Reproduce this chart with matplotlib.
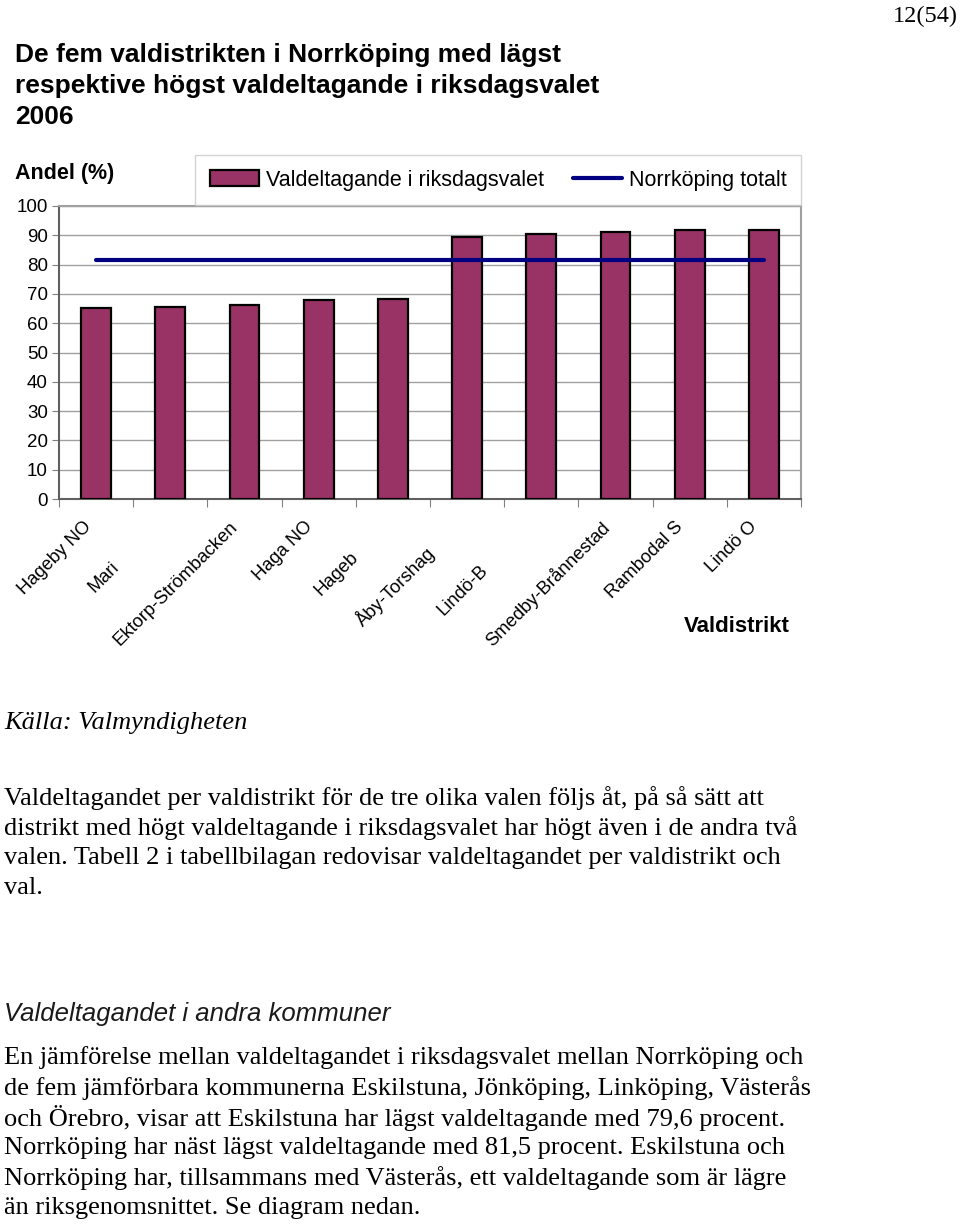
import matplotlib
matplotlib.use('Agg')
import matplotlib.pyplot as plt
import numpy as np

# data
districts = ['Hageby NO', 'Mari', 'Ektorp-Strömbacken', 'Haga NO', 'Hageb',
             'Åby-Torshag', 'Lindö-B', 'Smedby-Brånnestad', 'Rambodal S', 'Lindö O']
turnout = [65.2, 65.5, 66.2, 67.9, 68.4, 89.3, 90.6, 91.1, 91.8, 91.8]
norrkoping_total = 81.5
yticks = [0, 10, 20, 30, 40, 50, 60, 70, 80, 90, 100]

title = ['De fem valdistrikten i Norrköping med lägst',
         'respektive högst valdeltagande i riksdagsvalet',
         '2006']
para1 = ['Valdeltagandet per valdistrikt för de tre olika valen följs åt, på så sätt att',
         'distrikt med högt valdeltagande i riksdagsvalet har högt även i de andra två',
         'valen. Tabell 2 i tabellbilagan redovisar valdeltagandet per valdistrikt och',
         'val.']
para2 = ['En jämförelse mellan valdeltagandet i riksdagsvalet mellan Norrköping och',
         'de fem jämförbara kommunerna Eskilstuna, Jönköping, Linköping, Västerås',
         'och Örebro, visar att Eskilstuna har lägst valdeltagande med 79,6 procent.',
         'Norrköping har näst lägst valdeltagande med 81,5 procent. Eskilstuna och',
         'Norrköping har, tillsammans med Västerås, ett valdeltagande som är lägre',
         'än riksgenomsnittet. Se diagram nedan.']

# label anchor offsets in pixels (truncated labels sit lower on the diagonal)
label_dx = [-13, -60, -15, -15, -43, -42, -62, -15, -15, -15]
label_dy = [-19, -60, -19, -19, -50, -44, -63, -19, -19, -19]

W, H = 960, 1225
fig = plt.figure(figsize=(W / 100, H / 100), dpi=100)
sans = 'Liberation Sans'
serif = 'Liberation Serif'

def fy(py):
    return 1 - py / H

ax = fig.add_axes([59 / W, fy(499), (801 - 59) / W, (499 - 206) / H])
x = np.arange(len(districts))
bars = ax.bar(x, turnout, width=0.4, color='#993366', edgecolor='black',
              linewidth=1.6, zorder=3)
line, = ax.plot([x[0], x[-1]], [norrkoping_total, norrkoping_total],
                color='#000080', linewidth=3, zorder=4, solid_capstyle='round')

ax.set_xlim(-0.5, len(districts) - 0.5)
ax.set_ylim(0, 100)
ax.set_yticks(yticks)
ax.set_yticklabels([str(v) for v in yticks], fontfamily=sans, fontsize=13.5)
ax.yaxis.grid(True, color='#a0a0a0', linewidth=1, zorder=0)
ax.tick_params(axis='y', length=5, color='#808080', pad=3)
ax.set_xticks(np.arange(len(districts) + 1) - 0.5)
ax.set_xticklabels([])
ax.tick_params(axis='x', length=6, color='#808080', direction='out')
for s in ['left', 'bottom']:
    ax.spines[s].set_color('#606060')
    ax.spines[s].set_linewidth(1.5)
for s in ['top', 'right']:
    ax.spines[s].set_color('#a0a0a0')
    ax.spines[s].set_linewidth(1.5)

# rotated category labels
for i, name in enumerate(districts):
    ax.annotate(name, xy=(x[i], 0), xycoords='data',
                xytext=(label_dx[i], label_dy[i]), textcoords='offset pixels',
                rotation=45, rotation_mode='anchor', ha='right', va='top',
                fontsize=13.2, fontfamily=sans)

fig.legend([bars, line], ['Valdeltagande i riksdagsvalet', 'Norrköping totalt'],
           loc='upper right', bbox_to_anchor=(801 / W, fy(155)), ncol=2,
           prop={'family': sans, 'size': 15.5}, frameon=True, fancybox=False,
           edgecolor='#c8c8c8', handlelength=2.3, handleheight=0.8,
           handletextpad=0.3, columnspacing=1.35, borderpad=0.68,
           borderaxespad=0)

fig.text(15 / W, fy(173), 'Andel (%)', fontfamily=sans, fontweight='bold',
         fontsize=15.5, va='center')
fig.text(790 / W, fy(627), 'Valdistrikt', fontfamily=sans, fontweight='bold',
         fontsize=16, va='center', ha='right')

for k, t in enumerate(title):
    fig.text(15 / W, fy(55 + 31 * k), t, fontfamily=sans, fontweight='bold',
             fontsize=19, va='center')
fig.text(958 / W, fy(16), '12(54)', fontfamily=serif, fontsize=17.5,
         va='center', ha='right')

fig.text(4 / W, fy(723), 'Källa: Valmyndigheten', fontfamily=serif,
         fontstyle='italic', fontsize=19, va='center')
for k, t in enumerate(para1):
    fig.text(4 / W, fy(798 + 30 * k), t, fontfamily=serif, fontsize=19,
             va='center')
fig.text(4 / W, fy(1014), 'Valdeltagandet i andra kommuner', fontfamily=sans,
         fontstyle='italic', fontsize=18.5, va='center', color='#1a1a1a')
for k, t in enumerate(para2):
    fig.text(4 / W, fy(1058 + 30 * k), t, fontfamily=serif, fontsize=19,
             va='center')

fig.savefig('out.png', dpi=100)
